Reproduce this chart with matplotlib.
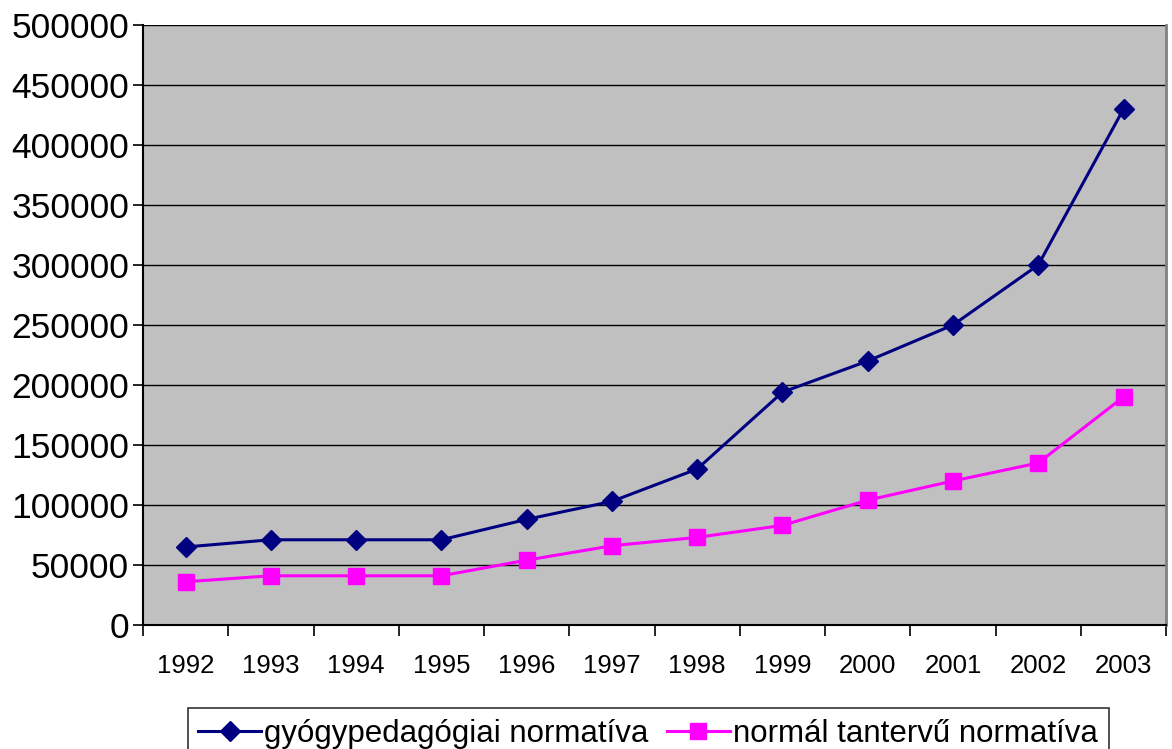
import matplotlib.pyplot as plt
import numpy as np

plt.rcParams['font.family'] = ['Liberation Sans', 'DejaVu Sans']

years = ['1992', '1993', '1994', '1995', '1996', '1997', '1998', '1999', '2000', '2001', '2002', '2003']
gyogy = [65000, 71000, 71000, 71000, 88000, 103000, 130000, 194000, 220000, 250000, 300000, 430000]
normal = [36000, 41000, 41000, 41000, 54000, 66000, 73000, 83000, 104000, 120000, 135000, 190000]

fig = plt.figure(figsize=(11.72, 7.49), dpi=100)
ax = fig.add_axes([0.122, 0.1656, 0.873, 0.801])
ax.set_facecolor('#c0c0c0')

x = np.arange(len(years))
ax.plot(x, gyogy, color='#000080', lw=2.2, marker='D', ms=10, label='gyógypedagógiai normatíva', clip_on=False, zorder=3)
ax.plot(x, normal, color='#ff00ff', lw=2.2, marker='s', ms=12, label='normál tantervű normatíva', clip_on=False, zorder=3)

ax.set_xlim(-0.5, len(years) - 0.5)
ax.set_ylim(0, 500000)
ax.set_yticks(np.arange(0, 500001, 50000))
ax.yaxis.grid(True, color='black', lw=1)
ax.set_axisbelow(True)
ax.tick_params(axis='y', labelsize=25.5, direction='out', length=7, width=1.2, pad=3)

ax.set_xticks(np.arange(-0.5, len(years), 1))
ax.set_xticklabels([])
ax.set_xticks(x, minor=True)
ax.set_xticklabels(years, minor=True)
ax.tick_params(axis='x', which='major', direction='out', length=8, width=1.2)
ax.tick_params(axis='x', which='minor', length=0, labelsize=18.5, pad=21)

ax.spines['top'].set_visible(False)
ax.spines['right'].set_color('#808080')
ax.spines['right'].set_linewidth(2)
ax.spines['left'].set_linewidth(1.5)
ax.spines['bottom'].set_linewidth(1.5)

leg = fig.legend(loc='lower center', bbox_to_anchor=(0.553, -0.035), ncol=2, fontsize=22.5,
                 frameon=True, fancybox=False, edgecolor='black', handlelength=2.0,
                 handletextpad=0.1, columnspacing=0.6, borderpad=0.35)
leg.get_frame().set_linewidth(1.2)

fig.savefig('out.png', dpi=100)
